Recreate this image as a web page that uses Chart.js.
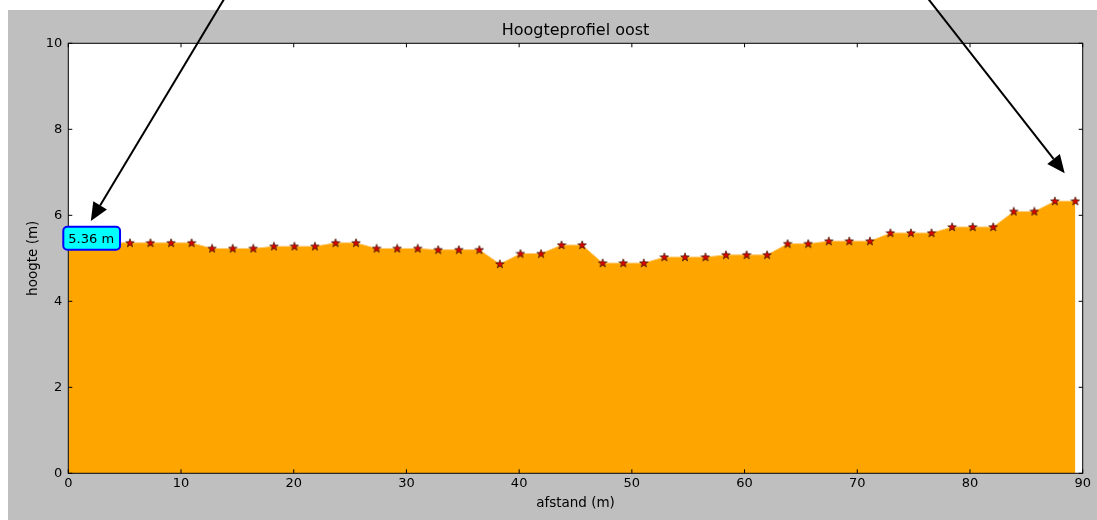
<!DOCTYPE html>
<html>
<head>
<meta charset="utf-8">
<title>Hoogteprofiel oost</title>
<script src="https://cdn.jsdelivr.net/npm/chart.js@4/dist/chart.umd.min.js"></script>
<style>
  html, body { margin: 0; padding: 0; background: #ffffff; }
  #wrap { position: relative; width: 1097px; height: 520px; }
</style>
</head>
<body>
<div id="wrap"><canvas id="profileChart"></canvas></div>
<script>
// Distance along the profile (m)
const afstand = [
  0, 1.82, 3.65, 5.47, 7.29, 9.12, 10.94, 12.76, 14.59, 16.41,
  18.24, 20.06, 21.88, 23.71, 25.53, 27.35, 29.18, 31.00, 32.82, 34.65,
  36.47, 38.29, 40.12, 41.94, 43.76, 45.59, 47.41, 49.24, 51.06, 52.88,
  54.71, 56.53, 58.35, 60.18, 62.00, 63.82, 65.65, 67.47, 69.29, 71.12,
  72.94, 74.76, 76.59, 78.41, 80.24, 82.06, 83.88, 85.71, 87.53, 89.35
];

// Height at each point (m)
const hoogte = [
  5.36, 5.36, 5.36, 5.36, 5.36, 5.36, 5.36, 5.23, 5.23, 5.23,
  5.28, 5.28, 5.28, 5.36, 5.36, 5.23, 5.23, 5.23, 5.20, 5.20,
  5.20, 4.87, 5.11, 5.11, 5.31, 5.31, 4.89, 4.89, 4.89, 5.03,
  5.03, 5.03, 5.08, 5.08, 5.08, 5.34, 5.34, 5.40, 5.40, 5.40,
  5.59, 5.59, 5.59, 5.73, 5.73, 5.73, 6.09, 6.09, 6.33, 6.33
];

// Axis ticks
const xTicks = [0, 10, 20, 30, 40, 50, 60, 70, 80, 90];
const yTicks = [0, 2, 4, 6, 8, 10];

// Annotation arrows: [fromX, fromY, toX, toY] in data units
const arrows = [
  [14.9, 11.5, 2.0, 5.87],
  [74.9, 11.5, 88.4, 6.98]
];

const FONT = "'DejaVu Sans', sans-serif";

// Filled star marker like matplotlib '*'
function makeStar() {
  const c = document.createElement("canvas");
  c.width = 10;
  c.height = 10;
  const g = c.getContext("2d");
  const cx = 5, cy = 5.3, ro = 4.5, ri = 1.8;
  g.beginPath();
  for (let i = 0; i < 10; i++) {
    const r = i % 2 === 0 ? ro : ri;
    const a = -Math.PI / 2 + i * Math.PI / 5;
    const px = cx + r * Math.cos(a);
    const py = cy + r * Math.sin(a);
    if (i === 0) g.moveTo(px, py); else g.lineTo(px, py);
  }
  g.closePath();
  g.fillStyle = "#dd0000";
  g.fill();
  g.lineWidth = 0.7;
  g.strokeStyle = "#3a1800";
  g.stroke();
  return c;
}

// Gray figure background, box, inward ticks, label and arrows
const figurePlugin = {
  id: "figure",
  beforeDraw(chart) {
    const ctx = chart.ctx;
    ctx.save();
    ctx.fillStyle = "#ffffff";
    ctx.fillRect(0, 0, chart.width, chart.height);
    ctx.fillStyle = "#bfbfbf";
    ctx.fillRect(8, 10, chart.width - 8, chart.height - 10);
    const a = chart.chartArea;
    ctx.fillStyle = "#ffffff";
    ctx.fillRect(a.left, a.top, a.right - a.left, a.bottom - a.top);
    ctx.restore();
  },
  afterDraw(chart) {
    const ctx = chart.ctx;
    const a = chart.chartArea;
    const xs = chart.scales.x;
    const ys = chart.scales.y;
    ctx.save();

    // plot frame
    ctx.strokeStyle = "#000000";
    ctx.lineWidth = 1;
    ctx.strokeRect(a.left, a.top, a.right - a.left, a.bottom - a.top);

    // inward ticks on all four sides
    ctx.beginPath();
    xTicks.forEach(v => {
      const px = xs.getPixelForValue(v);
      ctx.moveTo(px, a.bottom); ctx.lineTo(px, a.bottom - 4);
      ctx.moveTo(px, a.top); ctx.lineTo(px, a.top + 4);
    });
    yTicks.forEach(v => {
      const py = ys.getPixelForValue(v);
      ctx.moveTo(a.left, py); ctx.lineTo(a.left + 4, py);
      ctx.moveTo(a.right, py); ctx.lineTo(a.right - 4, py);
    });
    ctx.stroke();

    // label with first height
    const text = hoogte[0].toFixed(2) + " m";
    ctx.font = "13px " + FONT;
    const tx = xs.getPixelForValue(afstand[0]);
    const ty = ys.getPixelForValue(hoogte[0]);
    const tw = ctx.measureText(text).width;
    ctx.beginPath();
    ctx.roundRect(tx - 5, ty - 16, tw + 11, 23, 4);
    ctx.fillStyle = "#00ffff";
    ctx.fill();
    ctx.lineWidth = 2;
    ctx.strokeStyle = "#0000ff";
    ctx.stroke();
    ctx.fillStyle = "#000000";
    ctx.textBaseline = "alphabetic";
    ctx.textAlign = "left";
    ctx.fillText(text, tx, ty);

    // arrows
    arrows.forEach(ar => {
      const x0 = xs.getPixelForValue(ar[0]);
      const y0 = ys.getPixelForValue(ar[1]);
      const x1 = xs.getPixelForValue(ar[2]);
      const y1 = ys.getPixelForValue(ar[3]);
      const ang = Math.atan2(y1 - y0, x1 - x0);
      const hl = 18, hw = 8;
      const bx = x1 - hl * Math.cos(ang);
      const by = y1 - hl * Math.sin(ang);
      ctx.beginPath();
      ctx.moveTo(x0, y0);
      ctx.lineTo(bx, by);
      ctx.lineWidth = 2;
      ctx.strokeStyle = "#000000";
      ctx.stroke();
      ctx.beginPath();
      ctx.moveTo(x1, y1);
      ctx.lineTo(bx + hw * Math.sin(ang), by - hw * Math.cos(ang));
      ctx.lineTo(bx - hw * Math.sin(ang), by + hw * Math.cos(ang));
      ctx.closePath();
      ctx.fillStyle = "#000000";
      ctx.fill();
    });
    ctx.restore();
  }
};

const points = afstand.map((d, i) => ({ x: d, y: hoogte[i] }));

const ctx = document.getElementById("profileChart").getContext("2d");
new Chart(ctx, {
  type: "line",
  data: {
    datasets: [
      {
        label: "hoogte",
        data: points,
        borderColor: "rgba(255, 205, 120, 1)",
        borderWidth: 1,
        backgroundColor: "#ffa500",
        fill: "origin",
        tension: 0,
        pointStyle: makeStar(),
        pointRadius: 5,
        pointHoverRadius: 5
      }
    ]
  },
  options: {
    responsive: true,
    maintainAspectRatio: false,
    animation: false,
    layout: { padding: { left: 0, top: 0, right: 14.3, bottom: 0 } },
    plugins: {
      legend: { display: false },
      tooltip: { enabled: false },
      title: {
        display: true,
        fullSize: false,
        text: "Hoogteprofiel oost",
        color: "#000000",
        font: { family: FONT, size: 16, weight: "normal" },
        padding: { top: 21.4, bottom: 2.7 }
      }
    },
    scales: {
      x: {
        type: "linear",
        min: 0,
        max: 90,
        afterBuildTicks: s => { s.ticks = xTicks.map(v => ({ value: v })); },
        afterFit: s => { s.height = 46.7; },
        grid: { display: false, drawTicks: false },
        border: { display: false },
        ticks: { color: "#000000", padding: 3, font: { family: FONT, size: 13 } },
        title: {
          display: true,
          text: "afstand (m)",
          color: "#000000",
          font: { family: FONT, size: 13.5 },
          padding: { top: 0, bottom: 8.2 }
        }
      },
      y: {
        min: 0,
        max: 10,
        afterBuildTicks: s => { s.ticks = yTicks.map(v => ({ value: v })); },
        afterFit: s => { s.width = 68.3; },
        grid: { display: false, drawTicks: false },
        border: { display: false },
        ticks: { color: "#000000", padding: 6, font: { family: FONT, size: 13 } },
        title: {
          display: true,
          text: "hoogte (m)",
          color: "#000000",
          font: { family: FONT, size: 13.5 },
          padding: { top: 24.9, bottom: 0 }
        }
      }
    }
  },
  plugins: [figurePlugin]
});
</script>
</body>
</html>
